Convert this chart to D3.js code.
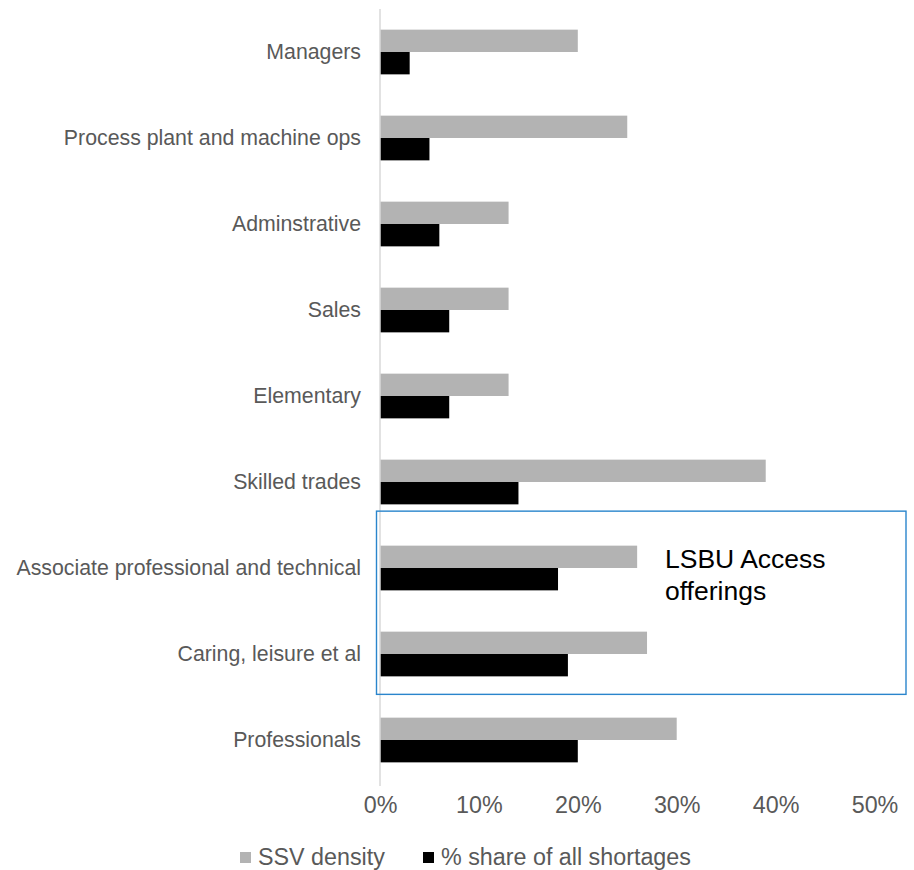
<!DOCTYPE html>
<html>
<head>
<meta charset="utf-8">
<script src="https://cdn.jsdelivr.net/npm/d3@7"></script>
<style>
  html, body { margin: 0; padding: 0; background: #fff; }
  svg { display: block; font-family: "Liberation Sans", Arial, sans-serif; }
</style>
</head>
<body>
<svg id="chart" width="914" height="870"></svg>
<script>
// Occupation groups, top to bottom
const categories = [
  "Managers",
  "Process plant and machine ops",
  "Adminstrative",
  "Sales",
  "Elementary",
  "Skilled trades",
  "Associate professional and technical",
  "Caring, leisure et al",
  "Professionals"
];
// SSV density (%)
const ssvDensity = [20, 25, 13, 13, 13, 39, 26, 27, 30];
// Share of all skill shortages (%)
const shareOfShortages = [3, 5, 6, 7, 7, 14, 18, 19, 20];
const seriesNames = ["SSV density", "% share of all shortages"];
const seriesColors = ["#b3b3b3", "#000000"];
const xTicks = [0, 10, 20, 30, 40, 50];
const highlighted = ["Associate professional and technical", "Caring, leisure et al"];
const highlightText = ["LSBU Access", "offerings"];

const FONT = "'Liberation Sans', Arial, sans-serif";
const svg = d3.select("#chart");

const x = d3.scaleLinear().domain([0, 50]).range([380, 874.5]);
const y = d3.scaleBand().domain(categories).range([9, 783])
  .paddingInner(0.48).paddingOuter(0.24);
const ySub = d3.scaleBand().domain(seriesNames).range([0, y.bandwidth()]);

const rows = categories.map((c, i) => ({ cat: c, values: [ssvDensity[i], shareOfShortages[i]] }));

// Bars
const groups = svg.append("g").selectAll("g").data(rows).join("g")
  .attr("transform", d => `translate(0,${y(d.cat)})`);
groups.selectAll("rect")
  .data(d => d.values.map((v, k) => ({ v, k })))
  .join("rect")
  .attr("x", x(0))
  .attr("y", d => ySub(seriesNames[d.k]))
  .attr("width", d => x(d.v) - x(0))
  .attr("height", ySub.bandwidth())
  .attr("fill", d => seriesColors[d.k]);

// Vertical category axis line
svg.append("line")
  .attr("x1", x(0)).attr("x2", x(0))
  .attr("y1", 9).attr("y2", 786)
  .attr("stroke", "#d9d9d9").attr("stroke-width", 1.5);

// Category labels
svg.append("g").selectAll("text").data(categories).join("text")
  .attr("x", x(0) - 19)
  .attr("y", d => y(d) + y.bandwidth() / 2)
  .attr("dy", "0.35em")
  .attr("text-anchor", "end")
  .attr("font-family", FONT)
  .attr("font-size", 21.3)
  .attr("fill", "#595959")
  .text(d => d);

// Percentage axis labels
const xAxis = d3.axisBottom(x).tickValues(xTicks).tickFormat(d => d + "%").tickSize(0).tickPadding(0);
const gx = svg.append("g").attr("transform", "translate(0,796)").call(xAxis);
gx.select(".domain").remove();
gx.selectAll("text")
  .attr("font-size", 23.3)
  .attr("font-family", FONT)
  .attr("fill", "#595959")
  .attr("dy", "0.74em");

// Highlight box around the Access-related occupations
const boxTop = y(highlighted[0]) - 34.5;
const boxBottom = y(highlighted[1]) + y.bandwidth() + 18;
svg.append("rect")
  .attr("x", 376.5).attr("y", boxTop)
  .attr("width", 906 - 376.5).attr("height", boxBottom - boxTop)
  .attr("fill", "none")
  .attr("stroke", "#2a85cc").attr("stroke-width", 1.4);

const note = svg.append("text")
  .attr("x", 665).attr("y", 568)
  .attr("font-family", FONT)
  .attr("font-size", 26.5).attr("fill", "#000");
note.selectAll("tspan").data(highlightText).join("tspan")
  .attr("x", 665)
  .attr("dy", (d, i) => i === 0 ? 0 : 31.5)
  .text(d => d);

// Legend
const legendX = [240, 423];
const legend = svg.append("g").selectAll("g").data(seriesNames).join("g")
  .attr("transform", (d, i) => `translate(${legendX[i]},852)`);
legend.append("rect")
  .attr("width", 11).attr("height", 11)
  .attr("fill", (d, i) => seriesColors[i]);
legend.append("text")
  .attr("x", 18).attr("y", 12.5)
  .attr("font-family", FONT)
  .attr("font-size", 23.3).attr("fill", "#595959")
  .text(d => d);
</script>
</body>
</html>
